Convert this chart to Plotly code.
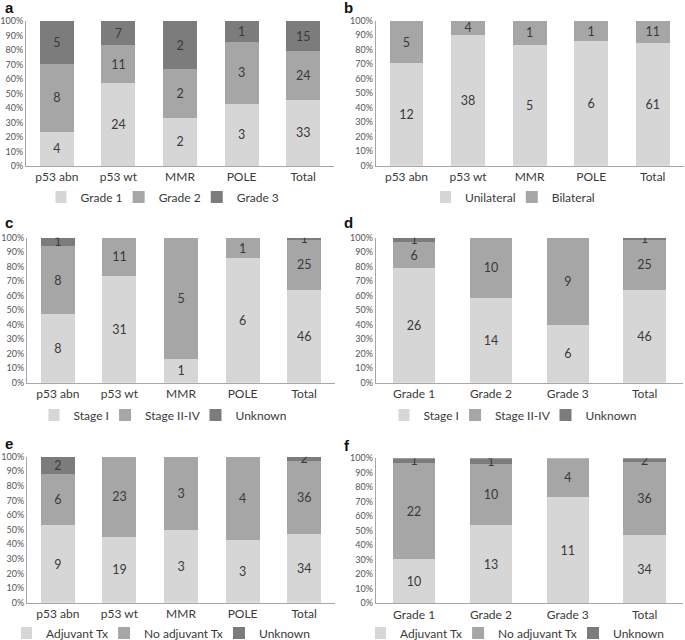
import plotly.graph_objects as go

# ---------------- data ----------------
cats_mol = ["p53 abn", "p53 wt", "MMR", "POLE", "Total"]
cats_grade = ["Grade 1", "Grade 2", "Grade 3", "Total"]

# panel a: grade by molecular subgroup
a_grade1 = [4, 24, 2, 3, 33]
a_grade2 = [8, 11, 2, 3, 24]
a_grade3 = [5, 7, 2, 1, 15]

# panel b: laterality by molecular subgroup
b_unilateral = [12, 38, 5, 6, 61]
b_bilateral = [5, 4, 1, 1, 11]

# panel c: stage by molecular subgroup
c_stage1 = [8, 31, 1, 6, 46]
c_stage2_4 = [8, 11, 5, 1, 25]
c_unknown = [1, 0, 0, 0, 1]

# panel d: stage by grade
d_stage1 = [26, 14, 6, 46]
d_stage2_4 = [6, 10, 9, 25]
d_unknown = [1, 0, 0, 1]

# panel e: adjuvant treatment by molecular subgroup
e_adjuvant = [9, 19, 3, 3, 34]
e_no_adjuvant = [6, 23, 3, 4, 36]
e_unknown = [2, 0, 0, 0, 2]

# panel f: adjuvant treatment by grade
f_adjuvant = [10, 13, 11, 34]
f_no_adjuvant = [22, 10, 4, 36]
f_unknown = [1, 1, 0, 2]

# ---------------- styling ----------------
W, H = 685, 640
FONT = "Lato, 'Open Sans', sans-serif"
C_LIGHT, C_MID, C_DARK = "#d6d6d6", "#a6a6a6", "#7c7c7c"
TXT = "#3a3a3a"
AX = "#a6a6a6"
PAD = "\u00a0\u00a0"  # small spacing after each legend label

panels = [
    dict(letter="a", cats=cats_mol,
         series=[("Grade 1", a_grade1, C_LIGHT), ("Grade 2", a_grade2, C_MID), ("Grade 3", a_grade3, C_DARK)],
         x=(26, 334), y=(21, 166), leg=(170, 197), lab=(3, 8)),
    dict(letter="b", cats=cats_mol,
         series=[("Unilateral", b_unilateral, C_LIGHT), ("Bilateral", b_bilateral, C_MID)],
         x=(375.7, 683.5), y=(20.7, 165.7), leg=(520, 197), lab=(342, 8)),
    dict(letter="c", cats=cats_mol,
         series=[("Stage I", c_stage1, C_LIGHT), ("Stage II-IV", c_stage2_4, C_MID), ("Unknown", c_unknown, C_DARK)],
         x=(27, 335), y=(237.7, 382.7), leg=(170, 415), lab=(3, 222)),
    dict(letter="d", cats=cats_grade,
         series=[("Stage I", d_stage1, C_LIGHT), ("Stage II-IV", d_stage2_4, C_MID), ("Unknown", d_unknown, C_DARK)],
         x=(375.7, 683), y=(237.7, 382.7), leg=(520, 415), lab=(342, 222)),
    dict(letter="e", cats=cats_mol,
         series=[("Adjuvant Tx", e_adjuvant, C_LIGHT), ("No adjuvant Tx", e_no_adjuvant, C_MID), ("Unknown", e_unknown, C_DARK)],
         x=(27, 335), y=(456.7, 602.7), leg=(168, 633), lab=(3, 443)),
    dict(letter="f", cats=cats_grade,
         series=[("Adjuvant Tx", f_adjuvant, C_LIGHT), ("No adjuvant Tx", f_no_adjuvant, C_MID), ("Unknown", f_unknown, C_DARK)],
         x=(375.7, 683), y=(458.3, 603.3), leg=(522, 633), lab=(342, 445)),
]

fig = go.Figure()
layout = dict(
    width=W, height=H, margin=dict(l=0, r=0, t=0, b=0, autoexpand=False),
    paper_bgcolor="white", plot_bgcolor="white",
    barmode="stack", barnorm="percent", showlegend=True,
    font=dict(family=FONT, color=TXT),
    uniformtext=dict(minsize=12.5, mode="show"),
    annotations=[],
)

for i, p in enumerate(panels):
    n = "" if i == 0 else str(i + 1)
    xa, ya = "x" + n, "y" + n
    leg = "legend" + n
    k = len(p["series"])
    for j, (name, vals, col) in enumerate(p["series"]):
        fig.add_trace(go.Bar(
            x=p["cats"], y=vals, name=name + (PAD if j < k - 1 else ""),
            xaxis=xa, yaxis=ya, legend=leg,
            marker=dict(color=col, line=dict(width=0)),
            text=[str(v) if v else "" for v in vals],
            textposition="inside", insidetextanchor="middle", textangle=0,
            textfont=dict(size=12.5, color=TXT, family=FONT),
            constraintext="none",
            hoverinfo="skip",
        ))
    layout["xaxis" + n] = dict(
        domain=[p["x"][0] / W, p["x"][1] / W], anchor=ya,
        showline=True, linecolor=AX, linewidth=1, ticks="",
        tickfont=dict(size=12, color=TXT, family=FONT), showgrid=False,
        fixedrange=True,
    )
    layout["yaxis" + n] = dict(
        domain=[1 - p["y"][1] / H, 1 - p["y"][0] / H], anchor=xa,
        range=[0, 100], dtick=10, ticksuffix="%", showgrid=False,
        showline=True, linecolor=AX, linewidth=1, ticks="",
        tickfont=dict(size=9, color="#555555", family=FONT), zeroline=False,
        fixedrange=True,
    )
    layout[leg] = dict(
        orientation="h", x=p["leg"][0] / W, y=1 - p["leg"][1] / H,
        xanchor="center", yanchor="middle", traceorder="normal",
        font=dict(size=12, color=TXT, family=FONT), bgcolor="rgba(0,0,0,0)",
        itemwidth=30, indentation=-15,
    )
    layout["annotations"].append(dict(
        text="<b>%s</b>" % p["letter"], x=p["lab"][0] / W, y=1 - p["lab"][1] / H,
        xref="paper", yref="paper", xanchor="left", yanchor="middle",
        showarrow=False, font=dict(size=15, color="#111111", family="Liberation Sans, Arial, sans-serif"),
    ))

fig.update_layout(**layout)
fig.update_layout(bargap=0.45)
fig.write_html(
    "out.html",
    config={"displayModeBar": False},
    post_script="document.body.style.margin='0';document.body.style.padding='0';",
)
